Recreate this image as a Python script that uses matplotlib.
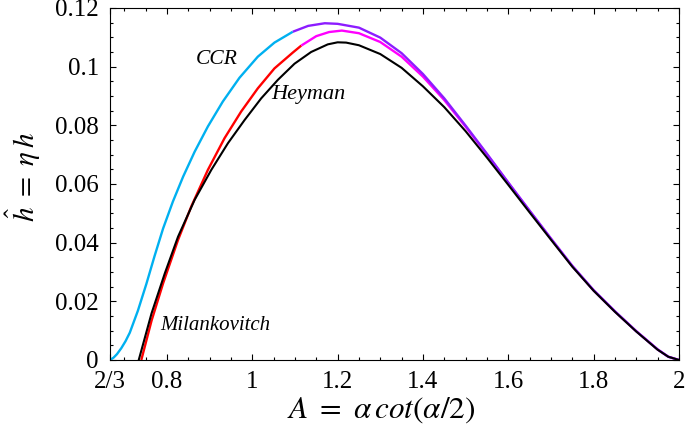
import matplotlib.pyplot as plt
import numpy as np

plt.rcParams["mathtext.fontset"] = "stix"
plt.rcParams["font.family"] = "Liberation Serif"

# CCR (голубой -> фиолетовый)
ccr_x = [0.6667, 0.675, 0.683, 0.693, 0.703, 0.713, 0.732, 0.752, 0.771, 0.791, 0.814,
         0.838, 0.865, 0.896, 0.931, 0.970, 1.013, 1.052, 1.095, 1.131, 1.17, 1.20,
         1.25, 1.30, 1.35, 1.40, 1.45, 1.50, 1.55, 1.60, 1.65, 1.70, 1.75, 1.80, 1.85,
         1.90, 1.95, 1.975, 2.0]
ccr_y = [0.0, 0.0008, 0.0020, 0.0040, 0.0064, 0.0093, 0.0168, 0.0260, 0.0354, 0.0448,
         0.0540, 0.0625, 0.0710, 0.0796, 0.0881, 0.0962, 0.1034, 0.1082, 0.1119, 0.1139,
         0.1148, 0.1146, 0.1133, 0.1099, 0.1046, 0.0975, 0.0892, 0.0799, 0.0703, 0.0605,
         0.0509, 0.0414, 0.0321, 0.0238, 0.0166, 0.0098, 0.0036, 0.0011, 0.0]
ccr_switch = 1.095

# Milankovitch (красный -> пурпурный)
mil_x = [0.740, 0.764, 0.791, 0.826, 0.857, 0.896, 0.935, 0.974, 1.013, 1.052, 1.095,
         1.115, 1.15, 1.18, 1.21, 1.25, 1.30, 1.35, 1.40, 1.45, 1.50, 1.55, 1.60, 1.65,
         1.70, 1.75, 1.80, 1.85, 1.90, 1.95, 1.975, 2.0]
mil_y = [0.0, 0.0134, 0.0261, 0.0409, 0.0523, 0.0648, 0.0756, 0.0847, 0.0926, 0.0994,
         0.1048, 0.1072, 0.1104, 0.1118, 0.1123, 0.1114, 0.1084, 0.1034, 0.0966, 0.0886,
         0.0795, 0.0701, 0.0604, 0.0508, 0.0413, 0.0320, 0.0237, 0.0165, 0.0098, 0.0036,
         0.0011, 0.0]
mil_switch = 1.115

# Heyman (чёрная)
hey_x = [0.734, 0.764, 0.795, 0.826, 0.865, 0.904, 0.943, 0.982, 1.021, 1.060, 1.099,
         1.138, 1.177, 1.20, 1.22, 1.25, 1.30, 1.35, 1.40, 1.45, 1.50, 1.55, 1.60, 1.65,
         1.70, 1.75, 1.80, 1.85, 1.90, 1.95, 1.975, 2.0]
hey_y = [0.0, 0.0159, 0.0295, 0.0420, 0.0546, 0.0648, 0.0739, 0.0818, 0.0892, 0.0955,
         0.1010, 0.1050, 0.1076, 0.1083, 0.1082, 0.1073, 0.1043, 0.0996, 0.0933, 0.0862,
         0.0780, 0.0690, 0.0597, 0.0503, 0.0410, 0.0318, 0.0236, 0.0164, 0.0097, 0.0035,
         0.0011, 0.0]

xticks = [2 / 3, 0.8, 1.0, 1.2, 1.4, 1.6, 1.8, 2.0]
xtick_labels = ["2/3", "0.8", "1", "1.2", "1.4", "1.6", "1.8", "2"]
yticks = [0, 0.02, 0.04, 0.06, 0.08, 0.1, 0.12]
ytick_labels = ["0", "0.02", "0.04", "0.06", "0.08", "0.1", "0.12"]


def split_plot(ax, xs, ys, xs_switch, c1, c2, lw=1.7):
    xs = np.array(xs)
    ys = np.array(ys)
    i = np.argmax(xs > xs_switch) - 1
    ax.plot(xs[:i + 1], ys[:i + 1], color=c1, lw=lw, solid_capstyle="butt",
            solid_joinstyle="round")
    ax.plot(xs[i:], ys[i:], color=c2, lw=lw, solid_capstyle="butt",
            solid_joinstyle="round")


fig = plt.figure(figsize=(6.85, 4.32), dpi=100)
ax = fig.add_axes([0.1606, 0.1667, 0.8306, 0.8148])

split_plot(ax, mil_x, mil_y, mil_switch, "#ff0000", "#ff00ff")
split_plot(ax, ccr_x, ccr_y, ccr_switch, "#00b0f0", "#8c1cff")
ax.plot(hey_x, hey_y, color="black", lw=1.5, solid_joinstyle="round")

ax.set_xlim(2 / 3, 2)
ax.set_ylim(0, 0.12)
ax.set_xticks(xticks)
ax.set_xticklabels(xtick_labels)
ax.set_yticks(yticks)
ax.set_yticklabels(ytick_labels)
ax.set_xticks(np.arange(0.7, 2.0, 0.05), minor=True)
ax.set_yticks(np.arange(0.005, 0.12, 0.005), minor=True)
ax.tick_params(which="both", direction="in", top=True, right=True,
               labelsize=18, width=0.8, pad=8)
ax.tick_params(which="major", length=4)
ax.tick_params(which="minor", length=2.2)
for s in ax.spines.values():
    s.set_linewidth(0.8)

ax.text(0.917, 0.1023, "CCR", fontsize=15.5, style="italic", ha="center", va="center")
ax.text(1.132, 0.0905, "Heyman", fontsize=16, style="italic", ha="center", va="center")
ax.text(0.913, 0.0119, "Milankovitch", fontsize=15, style="italic", ha="center",
        va="center")

ax.set_xlabel(r"$A\ =\ \alpha\,cot(\alpha/2)$", fontsize=22.5)
ax.set_ylabel(r"$\hat{h}\ =\ \eta\,h$", fontsize=21)
ax.xaxis.set_label_coords(0.476, -0.1)
ax.yaxis.set_label_coords(-0.118, 0.52)

plt.savefig("out.png", dpi=100)
plt.close()
